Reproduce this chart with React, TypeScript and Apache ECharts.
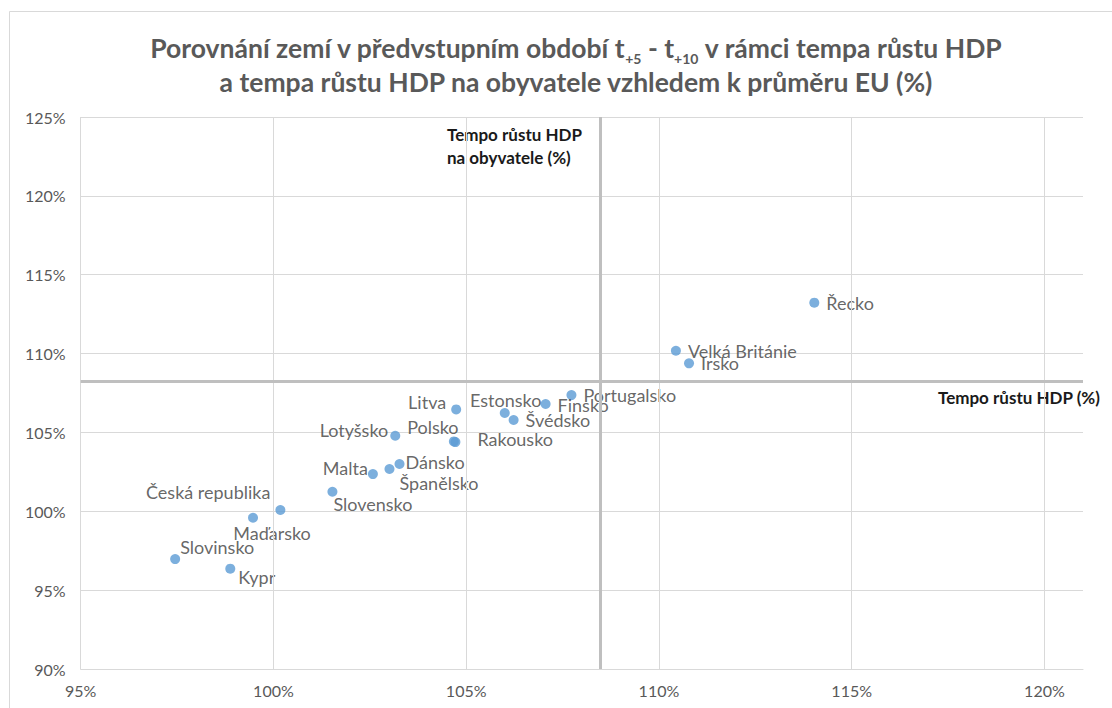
import React, { useEffect, useRef } from "react";
import * as echarts from "echarts";

const countries = [
  "Řecko", "Velká Británie", "Irsko", "Portugalsko", "Finsko", "Estonsko", "Švédsko",
  "Litva", "Lotyšsko", "Polsko", "Rakousko", "Dánsko", "Španělsko", "Malta",
  "Slovensko", "Česká republika", "Maďarsko", "Slovinsko", "Kypr",
];
// Tempo růstu HDP (%) – x
const gdpGrowth = [
  114.03, 110.44, 110.78, 107.73, 107.06, 106.0, 106.23,
  104.74, 103.16, 104.68, 104.72, 103.27, 103.01, 102.58,
  101.53, 100.18, 99.47, 97.45, 98.88,
];
// Tempo růstu HDP na obyvatele (%) – y
const gdpPerCapitaGrowth = [
  113.23, 110.18, 109.38, 107.37, 106.8, 106.23, 105.79,
  106.46, 104.79, 104.43, 104.39, 103.0, 102.68, 102.36,
  101.24, 100.08, 99.59, 96.97, 96.36,
];
const xTicks = [95, 100, 105, 110, 115, 120];
const yTicks = [90, 95, 100, 105, 110, 115, 120, 125];
const xCross = 108.49;
const yCross = 108.24;

// label placement (layout only)
const labelPlacement: Record<string, { position: string; offset: [number, number] }> = {
  "Řecko": { position: "right", offset: [2, 0] },
  "Velká Británie": { position: "right", offset: [2, 0] },
  "Irsko": { position: "right", offset: [2, 0] },
  "Portugalsko": { position: "right", offset: [2, 0] },
  "Finsko": { position: "right", offset: [2, 1] },
  "Estonsko": { position: "top", offset: [1, 6] },
  "Švédsko": { position: "right", offset: [2, 0] },
  "Litva": { position: "left", offset: [0, -7] },
  "Lotyšsko": { position: "left", offset: [3, -6] },
  "Polsko": { position: "top", offset: [-21, 5] },
  "Rakousko": { position: "right", offset: [12, -3] },
  "Dánsko": { position: "right", offset: [-4, -2] },
  "Španělsko": { position: "right", offset: [0, 14] },
  "Malta": { position: "left", offset: [5, -6] },
  "Slovensko": { position: "right", offset: [-9, 12] },
  "Česká republika": { position: "left", offset: [0, -18] },
  "Maďarsko": { position: "bottom", offset: [19, -4] },
  "Slovinsko": { position: "right", offset: [-5, -12] },
  "Kypr": { position: "right", offset: [-2, 8] },
};

const FONT = "Lato, 'Open Sans', sans-serif";

export default function App() {
  const ref = useRef<HTMLDivElement>(null);
  useEffect(() => {
    if (!ref.current) return;
    const chart = echarts.init(ref.current, undefined, { renderer: "svg" });
    const data = countries.map((name, i) => ({
      name,
      value: [gdpGrowth[i], gdpPerCapitaGrowth[i]],
      label: {
        position: labelPlacement[name].position,
        offset: labelPlacement[name].offset,
      },
    }));
    chart.setOption({
      animation: false,
      backgroundColor: "#ffffff",
      textStyle: { fontFamily: FONT },
      title: {
        text:
          "Porovnání zemí v předvstupním období t{sub|+5} - t{sub|+10} v rámci tempa růstu HDP\na tempa růstu HDP na obyvatele vzhledem k průměru EU (%)",
        left: 571,
        top: 26,
        textAlign: "center",
        textStyle: {
          fontFamily: FONT,
          fontSize: 26.5,
          fontWeight: "bold",
          color: "#595959",
          lineHeight: 34,
          rich: {
            sub: {
              fontFamily: FONT,
              fontSize: 14,
              fontWeight: "bold",
              color: "#595959",
              verticalAlign: "bottom",
              lineHeight: 34,
            },
          },
        },
      },
      grid: { left: 80.7, right: 29, top: 117, bottom: 39, containLabel: false },
      xAxis: {
        type: "value",
        min: 95,
        max: 121,
        interval: 5,
        axisLine: { show: true, lineStyle: { color: "#d9d9d9", width: 1 } },
        axisTick: { show: false },
        splitLine: { show: false },
        axisLabel: {
          margin: 13,
          color: "#595959",
          fontSize: 16,
          fontFamily: FONT,
          formatter: (v: number) => (xTicks.includes(v) ? v + "%" : ""),
        },
      },
      yAxis: {
        type: "value",
        min: 90,
        max: 125,
        interval: 5,
        axisLine: { show: false },
        axisTick: { show: false },
        splitLine: { show: true, lineStyle: { color: "#d9d9d9", width: 1 } },
        axisLabel: {
          margin: 15,
          color: "#595959",
          fontSize: 16,
          fontFamily: FONT,
          formatter: (v: number) => (yTicks.includes(v) ? v + "%" : ""),
        },
      },
      series: [
        {
          type: "scatter",
          data: [],
          z: 1,
          silent: true,
          markLine: {
            silent: true,
            symbol: ["none", "none"],
            label: { show: false },
            data: [
              ...xTicks.map((v) => ({
                xAxis: v,
                lineStyle: { color: "#d9d9d9", width: 1, type: "solid" },
              })),
              { xAxis: xCross, lineStyle: { color: "#bfbfbf", width: 3, type: "solid" } },
              { yAxis: yCross, lineStyle: { color: "#bfbfbf", width: 3, type: "solid" } },
            ],
          },
        },
        {
          type: "scatter",
          z: 3,
          symbol: "circle",
          symbolSize: 10,
          itemStyle: { color: "#5b9bd5" },
          label: {
            show: true,
            formatter: "{b}",
            color: "#404040",
            fontSize: 18,
            fontFamily: FONT,
            distance: 5,
          },
          data,
        },
      ],
      graphic: [
        {
          type: "rect",
          z: -10,
          silent: true,
          shape: { x: 9.5, y: 11.5, width: 1200, height: 800 },
          style: { fill: "none", stroke: "#d9d9d9", lineWidth: 1 },
        },
        {
          type: "text",
          left: 447,
          top: 123,
          style: {
            text: "Tempo růstu HDP\nna obyvatele (%)",
            font: `bold 17px ${FONT}`,
            fill: "#1a1a1a",
            lineHeight: 23,
          },
        },
        {
          type: "text",
          x: 938,
          y: 389,
          style: {
            text: "Tempo růstu HDP (%)",
            font: `bold 17px ${FONT}`,
            fill: "#1a1a1a",
          },
        },
      ],
    });
    return () => chart.dispose();
  }, []);
  return (
    <div
      ref={ref}
      style={{ position: "fixed", left: 0, top: 0, width: 1112, height: 708, background: "#fff" }}
    />
  );
}
